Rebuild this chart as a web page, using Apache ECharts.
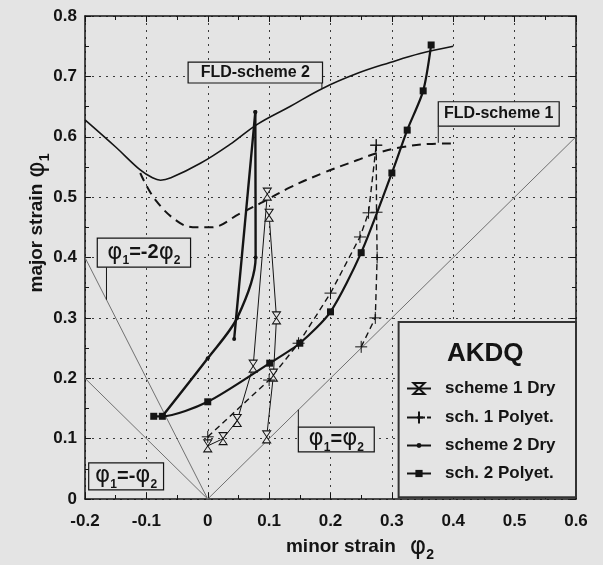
<!DOCTYPE html>
<html>
<head>
<meta charset="utf-8">
<script src="https://cdn.jsdelivr.net/npm/echarts@6/dist/echarts.min.js"></script>
<style>
  html, body { margin: 0; padding: 0; background: #e4e4e4; }
  #c { width: 603px; height: 565px; }
</style>
</head>
<body>
<div id="c"></div>
<script>
// Axis tick labels
const xTicks = ['-0.2', '-0.1', '0', '0.1', '0.2', '0.3', '0.4', '0.5', '0.6'];
const yTicks = ['0', '0.1', '0.2', '0.3', '0.4', '0.5', '0.6', '0.7', '0.8'];

// Forming limit curves [minor strain, major strain]
const fldScheme2 = [[-0.2, 0.628], [-0.15, 0.583], [-0.11, 0.545], [-0.09, 0.532], [-0.077, 0.528],
  [-0.06, 0.532], [-0.012, 0.556], [0.04, 0.59], [0.08, 0.62], [0.134, 0.65], [0.187, 0.68],
  [0.244, 0.705], [0.297, 0.723], [0.346, 0.738], [0.4, 0.75]];
const fldScheme1 = [[-0.11, 0.54], [-0.085, 0.495], [-0.045, 0.457], [-0.017, 0.45], [0.005, 0.45],
  [0.053, 0.473], [0.086, 0.49], [0.134, 0.516], [0.188, 0.54], [0.243, 0.561], [0.276, 0.573],
  [0.318, 0.583], [0.36, 0.588], [0.4, 0.589]];

// Strain paths, AKDQ steel
const scheme1DryA = [[0, 0.088], [0.025, 0.1], [0.048, 0.13], [0.074, 0.22], [0.097, 0.505]];
const scheme1DryB = [[0.096, 0.103], [0.107, 0.205], [0.112, 0.3], [0.1, 0.47]];
const scheme1PolyA = [[0, 0.103], [0.1, 0.197], [0.148, 0.258], [0.2, 0.341], [0.248, 0.434],
  [0.262, 0.474], [0.2745, 0.586]];
const scheme1PolyB = [[0.25, 0.252], [0.273, 0.3], [0.276, 0.4], [0.275, 0.475], [0.2745, 0.586]];
const scheme2DryA = [[-0.074, 0.137], [0, 0.233], [0.048, 0.3], [0.078, 0.4], [0.0775, 0.641]];
const scheme2DryB = [[0.043, 0.265], [0.0775, 0.641]];
const scheme2Poly = [[-0.088, 0.137], [-0.074, 0.137], [0, 0.161], [0.101, 0.225], [0.15, 0.258],
  [0.2, 0.31], [0.25, 0.408], [0.3, 0.54], [0.325, 0.611], [0.351, 0.676], [0.364, 0.752]];

// Straight strain-ratio reference lines
const lineMinus2 = [[0, 0], [-0.2, 0.4]];
const lineMinus1 = [[0, 0], [-0.2, 0.2]];
const lineEqual = [[0, 0], [0.6, 0.6]];

// Legend entries
const legendNames = ['scheme 1 Dry', 'sch. 1 Polyet.', 'scheme 2 Dry', 'sch. 2 Polyet.'];

const BG = '#e4e4e4';
const INK = '#141414';
const FONT = 'Liberation Sans';
const HOURGLASS = 'path://M0,0L10,0L0,16L10,16Z';
const PLUS = 'path://M5,0L5,10M0,5L10,5';

function refSeries(data) {
  return { type: 'line', data, symbol: 'none', silent: true, z: 1,
    lineStyle: { color: '#707070', width: 1 } };
}

const s1DryStyle = {
  name: legendNames[0], type: 'line', symbol: HOURGLASS, symbolSize: [8, 12],
  itemStyle: { color: BG, borderColor: INK, borderWidth: 1 },
  lineStyle: { color: INK, width: 1 }, z: 5
};
const s1PolyStyle = {
  name: legendNames[1], type: 'line', symbol: PLUS, symbolSize: 12,
  itemStyle: { color: BG, borderColor: INK, borderWidth: 1 },
  lineStyle: { color: INK, width: 1.4, type: [6, 4] }, z: 5
};
const s2DryStyle = {
  name: legendNames[2], type: 'line', symbol: 'circle', symbolSize: 4, smooth: 0.3,
  itemStyle: { color: INK },
  lineStyle: { color: INK, width: 2.4 }, z: 6
};
const s2PolyStyle = {
  name: legendNames[3], type: 'line', symbol: 'rect', symbolSize: 7, smooth: 0.25,
  itemStyle: { color: INK },
  lineStyle: { color: INK, width: 2.2 }, z: 6
};

const axisCommon = {
  type: 'value', interval: 0.1,
  axisLine: { show: true, onZero: false, lineStyle: { color: INK, width: 1.5 } },
  axisTick: { show: true, inside: true, length: 6, lineStyle: { color: INK, width: 1 } },
  minorTick: { show: true, splitNumber: 2, length: 4, lineStyle: { color: INK, width: 1 } },
};

// One legend block per entry so each marker keeps its own size
const legendIconHeights = [14, 15, 6, 9];
const legendRowTops = [375, 404, 432, 460];
const legends = legendNames.map((name, i) => ({
  data: [name], orient: 'vertical', left: 401, top: legendRowTops[i],
  itemWidth: 24, itemHeight: legendIconHeights[i], selectedMode: false, z: 10,
  textStyle: { color: INK, fontFamily: FONT, fontWeight: 'bold', fontSize: 17, padding: [0, 0, 0, 9] }
}));

const option = {
  backgroundColor: BG,
  animation: false,
  grid: { left: 85, right: 27, top: 16, bottom: 66 },
  xAxis: [
    Object.assign({}, axisCommon, {
      min: -0.2, max: 0.6, position: 'bottom',
      axisLabel: { margin: 14, color: INK, fontFamily: FONT, fontWeight: 'bold', fontSize: 17,
        formatter: (v, i) => xTicks[i] },
      splitLine: { show: true, lineStyle: { color: '#3a3a3a', width: 1, type: [2, 5] } }
    }),
    Object.assign({}, axisCommon, {
      min: -0.2, max: 0.6, position: 'top', axisLabel: { show: false }, splitLine: { show: false }
    })
  ],
  yAxis: [
    Object.assign({}, axisCommon, {
      min: 0, max: 0.8, position: 'left',
      axisLabel: { margin: 8, color: INK, fontFamily: FONT, fontWeight: 'bold', fontSize: 17,
        formatter: (v, i) => yTicks[i] },
      splitLine: { show: true, lineStyle: { color: '#3a3a3a', width: 1, type: [2, 5] } }
    }),
    Object.assign({}, axisCommon, {
      min: 0, max: 0.8, position: 'right', axisLabel: { show: false }, splitLine: { show: false }
    })
  ],
  legend: legends,
  series: [
    refSeries(lineMinus2),
    refSeries(lineMinus1),
    refSeries(lineEqual),
    { type: 'line', data: fldScheme2, symbol: 'none', smooth: 0.4, silent: true, z: 3,
      lineStyle: { color: INK, width: 1.6 } },
    { type: 'line', data: fldScheme1, symbol: 'none', smooth: 0.4, silent: true, z: 3,
      lineStyle: { color: INK, width: 2, type: [9, 6] } },
    Object.assign({}, s1DryStyle, { data: scheme1DryA }),
    Object.assign({}, s1DryStyle, { data: scheme1DryB }),
    Object.assign({}, s1PolyStyle, { data: scheme1PolyA }),
    Object.assign({}, s1PolyStyle, { data: scheme1PolyB }),
    Object.assign({}, s2DryStyle, { data: scheme2DryA }),
    Object.assign({}, s2DryStyle, { data: scheme2DryB, smooth: false }),
    Object.assign({}, s2PolyStyle, { data: scheme2Poly })
  ]
};

const chart = echarts.init(document.getElementById('c'));
chart.setOption(option);

// Annotation boxes and leader lines, anchored in data coordinates
const P = (x, y) => chart.convertToPixel({ gridIndex: 0 }, [x, y]);

const richPhi = {
  p: { fontFamily: 'DejaVu Sans', fontSize: 23, fill: INK, lineHeight: 28 },
  s: { fontFamily: FONT, fontWeight: 'bold', fontSize: 12, fill: INK, verticalAlign: 'bottom', lineHeight: 13 },
  e: { fontFamily: FONT, fontWeight: 'bold', fontSize: 20, fill: INK, lineHeight: 28 },
  t: { fontFamily: FONT, fontWeight: 'bold', fontSize: 16, fill: INK, lineHeight: 28 }
};
const richTitle = {
  t: { fontFamily: FONT, fontWeight: 'bold', fontSize: 19, fill: INK, lineHeight: 30 },
  g: { fontFamily: FONT, fontSize: 19, fill: INK, lineHeight: 30, width: 14 },
  h: { fontFamily: FONT, fontSize: 19, fill: INK, lineHeight: 30, width: 6 },
  p: { fontFamily: 'DejaVu Sans', fontSize: 25, fill: INK, lineHeight: 30 },
  s: { fontFamily: FONT, fontWeight: 'bold', fontSize: 14, fill: INK, verticalAlign: 'bottom', lineHeight: 11 }
};

function labelBox(x0, y0, x1, y1, text) {
  const a = P(x0, y1), b = P(x1, y0);
  return [
    { type: 'rect', z: 8, shape: { x: a[0], y: a[1], width: b[0] - a[0], height: b[1] - a[1] },
      style: { fill: BG, stroke: INK, lineWidth: 1.2 } },
    { type: 'text', z: 9, x: (a[0] + b[0]) / 2, y: (a[1] + b[1]) / 2,
      style: { text, rich: richPhi, align: 'center', verticalAlign: 'middle' } }
  ];
}
function leader(x0, y0, x1, y1) {
  const a = P(x0, y0), b = P(x1, y1);
  return { type: 'line', z: 7, shape: { x1: a[0], y1: a[1], x2: b[0], y2: b[1] },
    style: { stroke: INK, lineWidth: 1 } };
}

const lg0 = P(0.311, 0.293), lg1 = P(0.6, 0.003);

const graphics = [].concat(
  leader(-0.165, 0.384, -0.165, 0.33),
  leader(0.186, 0.689, 0.186, 0.68),
  leader(0.3756, 0.6175, 0.3756, 0.59),
  leader(0.1476, 0.119, 0.1476, 0.148),
  labelBox(-0.032, 0.689, 0.187, 0.7235, '{t|FLD-scheme 2}'),
  labelBox(0.3756, 0.6175, 0.5726, 0.658, '{t|FLD-scheme 1}'),
  labelBox(-0.18, 0.384, -0.028, 0.432, '{p|φ}{s|1}{e|=-2}{p|φ}{s|2}'),
  labelBox(-0.194, 0.015, -0.072, 0.06, '{p|φ}{s|1}{e|=-}{p|φ}{s|2}'),
  labelBox(0.1476, 0.078, 0.2713, 0.119, '{p|φ}{s|1}{e|=}{p|φ}{s|2}'),
  [
    { type: 'rect', z: 8, shape: { x: lg0[0], y: lg0[1], width: lg1[0] - lg0[0], height: lg1[1] - lg0[1] },
      style: { fill: BG, stroke: '#333', lineWidth: 2 } },
    { type: 'text', z: 9, x: (lg0[0] + lg1[0]) / 2 - 2, y: lg0[1] + 32,
      style: { text: 'AKDQ', fill: INK, font: 'bold 26px "Liberation Sans"', align: 'center', verticalAlign: 'middle' } },
    { type: 'text', z: 9, x: 360, y: 547,
      style: { text: '{t|minor strain}{g| }{p|φ}{s|2}', align: 'center', verticalAlign: 'middle', rich: richTitle } },
    { type: 'text', z: 9, x: 37, y: 223, rotation: Math.PI / 2,
      style: { text: '{t|major strain}{h| }{p|φ}{s|1}', align: 'center', verticalAlign: 'middle', rich: richTitle } }
  ]
);

chart.setOption({ graphic: { elements: graphics } });
</script>
</body>
</html>
